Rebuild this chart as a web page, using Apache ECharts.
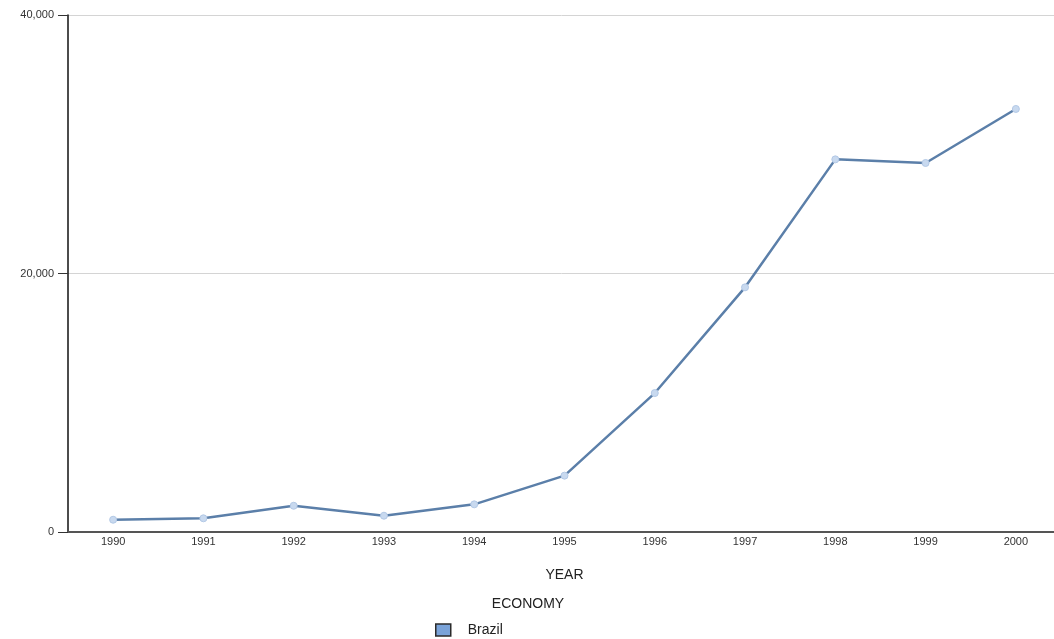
<!DOCTYPE html>
<html>
<head>
<meta charset="utf-8">
<script src="https://cdn.jsdelivr.net/npm/echarts@6/dist/echarts.min.js"></script>
<style>
  html, body { margin: 0; padding: 0; background: #fff; }
  #chart { width: 1054px; height: 639px; }
</style>
</head>
<body>
<div id="chart"></div>
<script>
// Brazil, yearly values 1990-2000
const years = ['1990', '1991', '1992', '1993', '1994', '1995', '1996', '1997', '1998', '1999', '2000'];
const brazil = [950, 1060, 2030, 1260, 2140, 4360, 10750, 18930, 28830, 28550, 32730];
const yTicks = [0, 20000, 40000];
const seriesName = 'Brazil';
const legendTitle = 'ECONOMY';
const xTitle = 'YEAR';

const chart = echarts.init(document.getElementById('chart'), null, { renderer: 'canvas' });
const font = '"Liberation Sans", Arial, sans-serif';

chart.setOption({
  animation: false,
  backgroundColor: '#fff',
  title: {
    text: legendTitle,
    left: 523,
    top: 592,
    textAlign: 'center',
    textStyle: { fontFamily: font, fontSize: 14, fontWeight: 'normal', color: '#222' }
  },
  legend: {
    left: 430,
    top: 618,
    itemWidth: 15,
    itemHeight: 12,
    itemGap: 10,
    textStyle: { fontFamily: font, fontSize: 14, color: '#222', padding: [0, 0, 0, 12] },
    data: [{
      name: seriesName,
      icon: 'rect',
      itemStyle: { color: '#7aa3d9', borderColor: '#2b2b2b', borderWidth: 1.5 }
    }]
  },
  // plot area runs slightly past the right edge of the canvas
  grid: { left: 68, width: 993, top: 15, bottom: 107, containLabel: false, outerBoundsMode: 'none' },
  xAxis: {
    type: 'category',
    data: years,
    boundaryGap: true,
    name: xTitle,
    nameLocation: 'middle',
    nameGap: 36,
    nameTextStyle: { fontFamily: font, fontSize: 14, color: '#222' },
    axisLine: { lineStyle: { color: '#555', width: 2 } },
    axisTick: { show: false },
    axisLabel: { fontFamily: font, fontSize: 11, color: '#333', margin: 4 }
  },
  yAxis: {
    type: 'value',
    min: yTicks[0],
    max: yTicks[yTicks.length - 1],
    interval: yTicks[1] - yTicks[0],
    axisLine: { show: true, lineStyle: { color: '#111', width: 1.5 } },
    axisTick: { show: true, length: 10, lineStyle: { color: '#333' } },
    axisLabel: {
      fontFamily: font, fontSize: 11, color: '#333', margin: 14,
      formatter: v => v.toLocaleString('en-US')
    },
    splitLine: { lineStyle: { color: '#d4d4d4', width: 1 } }
  },
  series: [{
    name: seriesName,
    type: 'line',
    data: brazil,
    symbol: 'circle',
    symbolSize: 7,
    lineStyle: { color: '#5b7fa9', width: 2.5 },
    itemStyle: { color: '#c8d9ef', borderColor: '#b3c9e6', borderWidth: 1 },
    z: 3
  }]
});
</script>
</body>
</html>
